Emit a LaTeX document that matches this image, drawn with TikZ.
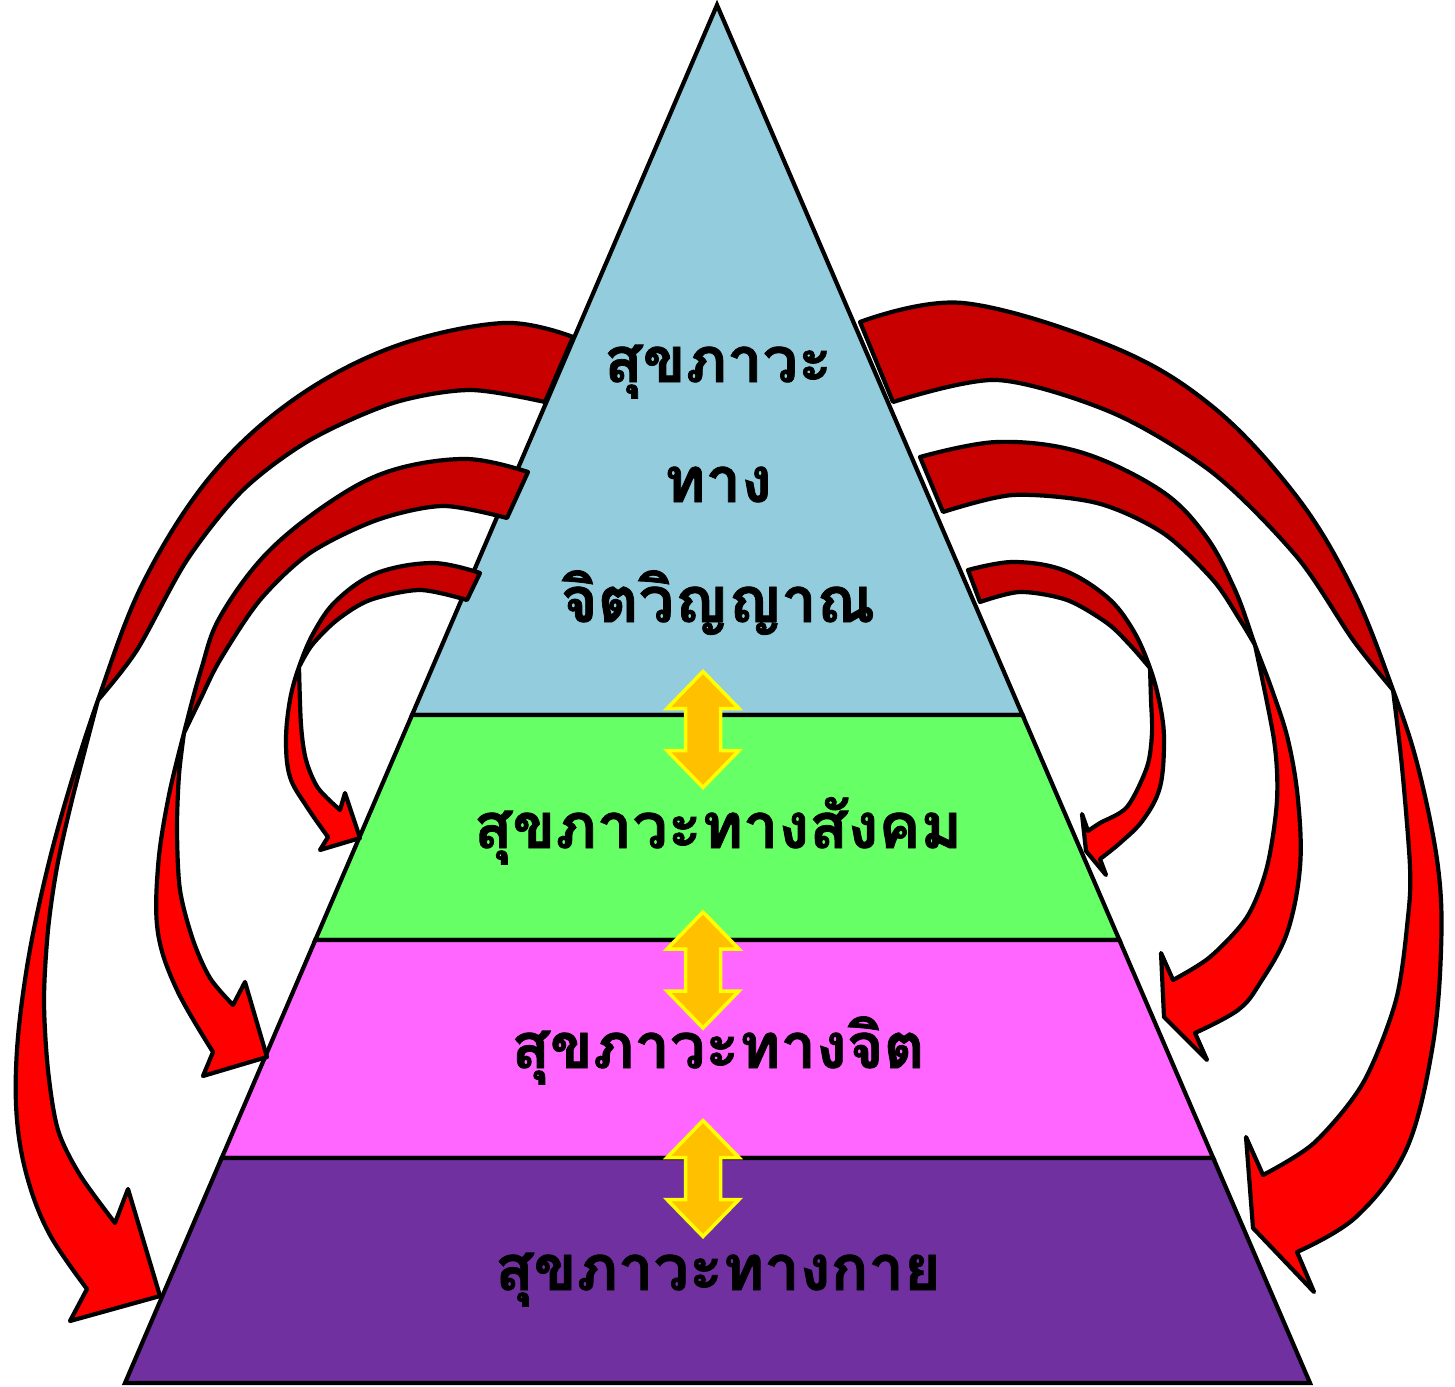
\documentclass[tikz,border=0pt]{standalone}
\usepackage{fontspec}
\newfontfamily\thaifont[Script=Thai,FakeBold=1.2]{Loma}
\definecolor{skyb}{HTML}{93CDDD}
\definecolor{lgreen}{HTML}{66FF66}
\definecolor{lmag}{HTML}{FF66FF}
\definecolor{lpurp}{HTML}{7030A0}
\definecolor{dred}{HTML}{C80000}
\definecolor{bred}{HTML}{FF0000}
\definecolor{gold}{HTML}{FFC000}
\definecolor{yel}{HTML}{FFFF00}
\newcommand\redarrow[2]{%
  \fill[bred] #1;
  \begin{scope}\clip #1; \fill[dred] #2; \end{scope}
  \draw[outl] #1;}
\begin{document}
\begin{tikzpicture}[x=1pt,y=-1pt,
  layer/.style={draw=black,line width=4.2pt},
  outl/.style={draw=black,line width=4.2pt,line join=round},
  lbl/.style={font=\thaifont\bfseries\fontsize{63}{70}\selectfont,anchor=base,inner sep=0pt},
  dblarr/.pic={\filldraw[fill=gold,draw=yel,line width=3.5pt] (0,-58) -- (36,-21) -- (17.5,-21) -- (17.5,21) -- (36,21) -- (0,58) -- (-36,21) -- (-17.5,21) -- (-17.5,-21) -- (-36,-21) -- cycle;}
]
\useasboundingbox (0,0) rectangle (1455,1386);
% pyramid
\filldraw[layer,fill=skyb] (717,5) -- (1022.5,715) -- (412,715) -- cycle;
\filldraw[layer,fill=lgreen] (412,715) -- (1022.5,715) -- (1119.4,940) -- (315.3,940) -- cycle;
\filldraw[layer,fill=lmag] (315.3,940) -- (1119.4,940) -- (1213.2,1158) -- (221.7,1158) -- cycle;
\filldraw[layer,fill=lpurp] (221.7,1158) -- (1213.2,1158) -- (1310,1383) -- (125,1383) -- cycle;
% double arrows
\pic at (703,729.5) {dblarr};
\pic at (703,970) {dblarr};
\pic at (703,1178.5) {dblarr};
% texts
\node[lbl] (t1) at (718,382) {สุขภาวะ};
\node[lbl] (t2) at (718,502) {ทาง};
\node[lbl] (t3) at (718,622) {จิตวิญญาณ};
\node[lbl] (t4) at (718,848) {สุขภาวะทางสังคม};
\node[lbl] (t5) at (718,1068) {สุขภาวะทางจิต};
\node[lbl] (t6) at (718,1290) {สุขภาวะทางกาย};
% ---- left arrows
% L1
\redarrow{plot[smooth,tension=0.6] coordinates {(573,337) (503,323) (393,347) (293,400) (210,477) (143,583) (98,700) (66,800) (44,883) (27,967) (17,1050) (17,1120) (28,1180) (50,1235) (87,1289)} -- (70,1321) -- (160,1296) -- (128,1189) -- (115,1223) -- plot[smooth] coordinates {(115,1223) (80,1175) (58,1130) (48,1070) (44,1000) (48,930) (57,867) (72,800) (98,700)} -- plot[smooth] coordinates {(98,700) (137,650) (187,560) (243,490) (310,440) (393,403) (470,390) (545,402)} -- cycle}
{plot[smooth] coordinates {(98,700) (137,650) (187,560) (243,490) (310,440) (393,403) (470,390) (545,402)} -- (620,402) -- (620,200) -- (-100,200) -- (-100,700) -- cycle}
% L2
\redarrow{plot[smooth,tension=0.6] coordinates {(528,472) (467,459) (393,470) (333,500) (267,553) (220,617) (201,670) (184,733) (168,800) (158,867) (158,933) (177,990) (213,1052)} -- (203,1076) -- (267,1057) -- (245,982) -- (233,1005) -- plot[smooth] coordinates {(233,1005) (210,978) (193,940) (180,890) (177,830) (179,775) (184,733)} -- plot[smooth] coordinates {(184,733) (200,700) (220,660) (260,600) (310,553) (377,520) (443,506) (507,518)} -- cycle}
{plot[smooth] coordinates {(184,733) (200,700) (220,660) (260,600) (310,553) (377,520) (443,506) (507,518)} -- (580,518) -- (580,400) -- (-100,400) -- (-100,733) -- cycle}
% L3
\redarrow{plot[smooth,tension=0.6] coordinates {(480,573) (433,563) (377,573) (337,600) (314,632) (299,667) (290,700) (286,740) (290,777) (307,807) (328,837)} -- (320,850) -- (360,838) -- (345,793) -- (340,810) -- plot[smooth] coordinates {(340,810) (318,788) (306,760) (301,725) (299,667)} -- plot[smooth] coordinates {(299,667) (312,645) (337,620) (370,600) (420,590) (467,600)} -- cycle}
{plot[smooth] coordinates {(299,667) (312,645) (337,620) (370,600) (420,590) (467,600)} -- (530,600) -- (530,500) -- (200,500) -- (200,667) -- cycle}
% ---- right arrows
% R1
\redarrow{plot[smooth,tension=0.6] coordinates {(860,322) (963,303) (1113,347) (1213,407) (1297,497) (1353,590) (1393,690) (1418,767) (1438,867) (1441,950) (1432,1050) (1406,1150) (1356,1217) (1297,1252)} -- (1314,1292) -- (1253,1228) -- (1246,1137) -- (1263,1175) -- plot[smooth] coordinates {(1263,1175) (1314,1143) (1363,1083) (1396,1000) (1408,917) (1410,867) (1402,767) (1393,690)} -- plot[smooth] coordinates {(1393,690) (1353,640) (1297,557) (1213,473) (1113,413) (997,380) (893,402)} -- cycle}
{plot[smooth] coordinates {(1393,690) (1353,640) (1297,557) (1213,473) (1113,413) (997,380) (893,402)} -- (830,402) -- (830,250) -- (1500,250) -- (1500,690) -- cycle}
% R2
\redarrow{plot[smooth,tension=0.6] coordinates {(920,457) (997,442) (1080,452) (1160,490) (1205,535) (1235,590) (1255,645) (1272,690) (1288,740) (1298,800) (1300,867) (1287,933) (1260,983) (1238,1010) (1195,1033)} -- (1207,1060) -- (1164,1017) -- (1161,953) -- (1173,980) -- plot[smooth] coordinates {(1173,980) (1210,957) (1247,917) (1267,867) (1277,800) (1274,740) (1255,645)} -- plot[smooth] coordinates {(1255,645) (1240,620) (1213,580) (1163,533) (1097,503) (1013,495) (943,512)} -- cycle}
{plot[smooth] coordinates {(1255,645) (1240,620) (1213,580) (1163,533) (1097,503) (1013,495) (943,512)} -- (890,512) -- (890,380) -- (1500,380) -- (1500,645) -- cycle}
% R3
\redarrow{plot[smooth,tension=0.6] coordinates {(968,570) (1013,562) (1063,570) (1107,597) (1133,630) (1150,668) (1160,705) (1164,740) (1160,787) (1143,820) (1120,843) (1100,859)} -- (1106,875) -- (1086,851) -- (1082,814) -- (1088,831) -- plot[smooth] coordinates {(1088,831) (1100,823) (1127,807) (1147,767) (1152,733) (1151,700) (1150,668)} -- plot[smooth] coordinates {(1150,668) (1130,645) (1107,623) (1067,600) (1020,592) (980,602)} -- cycle}
{plot[smooth] coordinates {(1150,668) (1130,645) (1107,623) (1067,600) (1020,592) (980,602)} -- (940,602) -- (940,500) -- (1300,500) -- (1300,668) -- cycle}
\end{tikzpicture}
\end{document}
